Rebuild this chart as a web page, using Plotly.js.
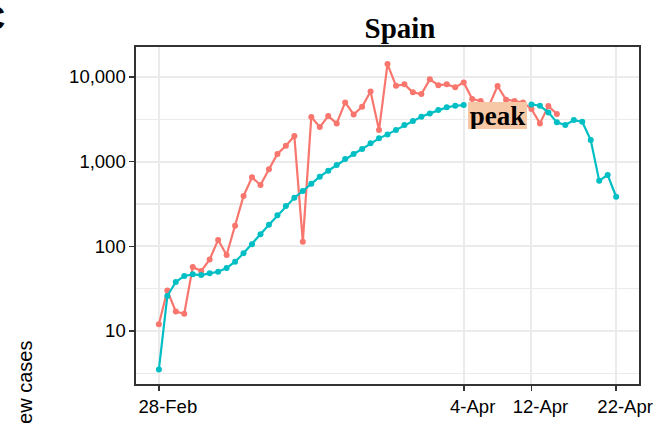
<!DOCTYPE html>
<html>
<head>
<meta charset="utf-8">
<script src="https://cdn.plot.ly/plotly-3.0.1.min.js"></script>
<style>
  html, body { margin: 0; padding: 0; background: #ffffff; overflow: hidden; }
  #chart { width: 659px; height: 423px; }
</style>
</head>
<body>
<div id="chart"></div>
<script>
// ---- data ----
const dates = [
  '2020-02-28','2020-02-29','2020-03-01','2020-03-02','2020-03-03','2020-03-04','2020-03-05',
  '2020-03-06','2020-03-07','2020-03-08','2020-03-09','2020-03-10','2020-03-11','2020-03-12',
  '2020-03-13','2020-03-14','2020-03-15','2020-03-16','2020-03-17','2020-03-18','2020-03-19',
  '2020-03-20','2020-03-21','2020-03-22','2020-03-23','2020-03-24','2020-03-25','2020-03-26',
  '2020-03-27','2020-03-28','2020-03-29','2020-03-30','2020-03-31','2020-04-01','2020-04-02',
  '2020-04-03','2020-04-04','2020-04-05','2020-04-06','2020-04-07','2020-04-08','2020-04-09',
  '2020-04-10','2020-04-11','2020-04-12','2020-04-13','2020-04-14','2020-04-15','2020-04-16',
  '2020-04-17','2020-04-18','2020-04-19','2020-04-20','2020-04-21','2020-04-22'
];

// daily new cases (red series), 28-Feb .. 15-Apr
const dailyCases = [
  12, 30, 17, 16, 57, 51, 70, 119, 79, 175,
  393, 653, 530, 811, 1231, 1541, 2005, 113, 3360, 2560,
  3450, 2830, 5010, 3610, 4450, 6750, 2360, 14190, 7870, 8180,
  6580, 6280, 9380, 8010, 8180, 7540, 8630, 5480, 5200, 4600,
  7820, 5400, 5200, 5000, 4200, 2830, 4530, 3650
];

// smoothed new cases (cyan series), 28-Feb .. 22-Apr (hidden behind label: null)
const smoothCases = [
  3.5, 25.9, 38, 44.6, 46.7, 45.8, 48, 50, 55.4, 65.8,
  82.6, 106, 139, 180, 232, 299, 375, 450, 548, 664,
  781, 912, 1074, 1231, 1410, 1644, 1884, 2099, 2360, 2704,
  3013, 3388, 3715, 4064, 4375, 4571, 4656, null, null, null,
  null, null, null, null, 4745, 4571, 3817, 2911, 2704, 3097,
  2958, 1799, 596, 695, 385
];

const xTickVals = ['2020-02-28', '2020-04-04', '2020-04-12', '2020-04-22'];
const xTickText = ['28-Feb', '4-Apr', '12-Apr', '22-Apr'];
const yTickVals = [10, 100, 1000, 10000];
const yTickText = ['10', '100', '1,000', '10,000'];
const yMinorVals = [3.162, 31.62, 316.2, 3162, 31623];

const panelTitle = 'Spain';
const peakLabel = 'peak';
const peakDate = '2020-04-08';
const yTitle = 'new cases';
const panelTag = 'C';

// ---- chart ----
const red = '#F8766D', cyan = '#00BFC4';
const tickFont = { family: 'Liberation Sans, Arial, sans-serif', size: 18.5, color: '#000000' };

const traces = [
  {
    x: dates.slice(0, dailyCases.length), y: dailyCases,
    type: 'scatter', mode: 'lines+markers',
    line: { color: red, width: 2.2 },
    marker: { color: red, size: 6 },
    connectgaps: false, showlegend: false, hoverinfo: 'skip'
  },
  {
    x: dates, y: smoothCases,
    type: 'scatter', mode: 'lines+markers',
    line: { color: cyan, width: 2.2 },
    marker: { color: cyan, size: 6 },
    connectgaps: false, showlegend: false, hoverinfo: 'skip'
  }
];

const W = 659, H = 423;
const mL = 136, mR = 20, mT = 47, mB = 39;
const pw = W - mL - mR, ph = H - mT - mB;
const px2paperX = p => (p - mL) / pw;
const px2paperY = p => (H - mB - p) / ph;

const layout = {
  width: W, height: H,
  margin: { l: mL, r: mR, t: mT, b: mB, pad: 0 },
  paper_bgcolor: '#ffffff', plot_bgcolor: '#ffffff',
  showlegend: false,
  title: {
    text: panelTitle,
    xref: 'container', yref: 'container',
    x: 400 / W, xanchor: 'center',
    y: 1 - 28 / H, yanchor: 'middle',
    font: { family: 'Liberation Serif, Times New Roman, serif', size: 29, weight: 'bold', color: '#000000' }
  },
  xaxis: {
    type: 'date',
    range: ['2020-02-25 07:12', '2020-04-24 16:48'],
    tickmode: 'array', tickvals: xTickVals, ticktext: xTickText,
    showgrid: true, gridcolor: '#EBEBEB', gridwidth: 2,
    zeroline: false,
    showline: true, mirror: true, linecolor: '#333333', linewidth: 1.6,
    ticks: 'outside', ticklen: 5, tickwidth: 1.6, tickcolor: '#333333',
    tickfont: tickFont,
    ticklabelshift: 9
  },
  yaxis: {
    type: 'log',
    range: [0.374, 4.354],
    tickmode: 'array', tickvals: yTickVals, ticktext: yTickText,
    showgrid: true, gridcolor: '#EBEBEB', gridwidth: 2,
    minor: { tickmode: 'array', tickvals: yMinorVals, showgrid: true, gridcolor: '#EBEBEB', gridwidth: 1.6, ticks: '' },
    zeroline: false,
    showline: true, mirror: true, linecolor: '#333333', linewidth: 1.6,
    ticks: 'outside', ticklen: 5, tickwidth: 1.6, tickcolor: '#333333',
    tickfont: tickFont
  },
  annotations: [
    {
      text: peakLabel, x: peakDate, xref: 'x', y: 3.545, yref: 'y',
      xanchor: 'center', yanchor: 'middle', showarrow: false,
      width: 59, height: 27, bgcolor: '#F7C8A5', borderwidth: 0, borderpad: 0,
      font: { family: 'Liberation Serif, Times New Roman, serif', size: 27, weight: 'bold', color: '#000000' }
    },
    {
      text: yTitle, textangle: -90,
      xref: 'paper', yref: 'paper', x: px2paperX(25), y: px2paperY(388),
      xanchor: 'center', yanchor: 'middle', showarrow: false,
      font: { family: 'Liberation Sans, Arial, sans-serif', size: 20, color: '#000000' }
    },
    {
      text: panelTag,
      xref: 'paper', yref: 'paper', x: px2paperX(7), y: px2paperY(17),
      xanchor: 'right', yanchor: 'middle', showarrow: false,
      font: { family: 'Liberation Sans, Arial, sans-serif', size: 35, weight: 'bold', color: '#000000' }
    }
  ]
};

Plotly.newPlot('chart', traces, layout, { staticPlot: true, displayModeBar: false });
</script>
</body>
</html>
